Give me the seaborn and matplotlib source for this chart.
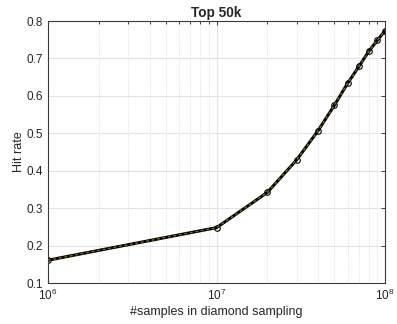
import matplotlib
matplotlib.use("Agg")
import matplotlib.pyplot as plt
import seaborn as sns
import pandas as pd
import numpy as np
from matplotlib.ticker import LogLocator, NullFormatter

sns.set_style("white")
plt.rcParams['font.family'] = ['Liberation Sans', 'DejaVu Sans']

samples = [1e6, 1e7, 2e7, 3e7, 4e7, 5e7, 6e7, 7e7, 8e7, 9e7, 1e8]
hit_rate = [0.161, 0.248, 0.342, 0.430, 0.507, 0.575, 0.634, 0.679, 0.719, 0.749, 0.774]
title = "Top 50k"
xlabel = "#samples in diamond sampling"
ylabel = "Hit rate"

df = pd.DataFrame({"samples": samples, "hit": hit_rate})

fig = plt.figure(figsize=(3.97, 3.24), dpi=100)
ax = fig.add_axes([0.121, 0.1265, 0.849, 0.8085])

sns.lineplot(data=df, x="samples", y="hit", ax=ax, color="black", linewidth=2.2,
             marker="o", markersize=4, markerfacecolor="none", markeredgecolor="black",
             markeredgewidth=0.8)
sns.lineplot(data=df, x="samples", y="hit", ax=ax, color="#7d6a1e", linewidth=1.0,
             linestyle=(0, (2, 2)))

ax.set_xscale("log")
ax.set_xlim(1e6, 1e8)
ax.set_ylim(0.1, 0.8)
ax.set_yticks(np.arange(0.1, 0.81, 0.1))
ax.set_yticklabels([f"{v:.1f}" for v in np.arange(0.1, 0.81, 0.1)])
ax.xaxis.set_minor_locator(LogLocator(base=10, subs=np.arange(2, 10)))
ax.xaxis.set_minor_formatter(NullFormatter())

ax.grid(True, which="major", color="#e3e3e3", linewidth=0.8, linestyle="-")
ax.grid(True, which="minor", axis="x", color="#d0d0d0", linewidth=0.6, linestyle=(0, (1, 2)))
ax.set_axisbelow(True)

for s in ax.spines.values():
    s.set_color("#3a3a3a")
    s.set_linewidth(0.8)
ax.tick_params(which="both", direction="in", top=True, right=True, colors="#262626",
               labelsize=8.5, length=3, width=0.6)
ax.tick_params(which="minor", length=2)

ax.set_title(title, fontsize=9.8, fontweight="bold", pad=3)
ax.set_xlabel(xlabel, fontsize=9, color="#262626", labelpad=2)
ax.set_ylabel(ylabel, fontsize=9, color="#262626", labelpad=1)

fig.savefig("out.png", dpi=100)
